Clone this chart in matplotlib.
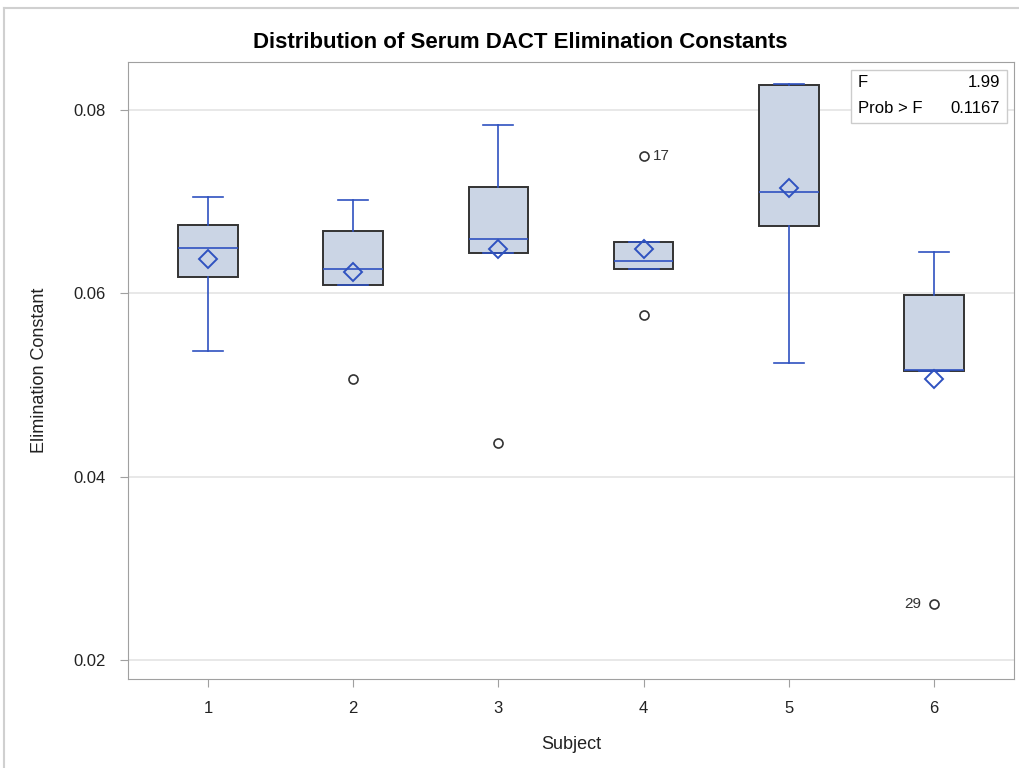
import numpy as np
import matplotlib
matplotlib.use("Agg")
import matplotlib.pyplot as plt
from matplotlib.patches import Rectangle

plt.rcParams['font.family'] = ['Liberation Sans Narrow', 'Liberation Sans', 'DejaVu Sans']

# summary statistics
subjects = [1, 2, 3, 4, 5, 6]
whisker_lo = [0.05374, 0.06091, 0.06440, 0.06265, 0.05236, 0.05156]
q1 = [0.06175, 0.06091, 0.06440, 0.06265, 0.06738, 0.05156]
median = [0.06491, 0.06269, 0.06596, 0.06356, 0.07105, 0.05165]
q3 = [0.06742, 0.06683, 0.07156, 0.06563, 0.08272, 0.05985]
whisker_hi = [0.07054, 0.07015, 0.07833, 0.06563, 0.08283, 0.06454]
mean = [0.06371, 0.06233, 0.06487, 0.06487, 0.07149, 0.05062]

# outliers: subject, value, id label
out_subject = [2, 3, 4, 4, 6]
out_value = [0.05062, 0.04364, 0.07502, 0.05760, 0.02611]
out_label = ['', '', '17', '', '29']

f_value = '1.99'
p_value = '0.1167'

blue = '#2f52c0'
fill = '#cbd5e5'

stats = []
for i, s in enumerate(subjects):
    fl = [v for sj, v in zip(out_subject, out_value) if sj == s]
    stats.append(dict(med=median[i], q1=q1[i], q3=q3[i], whislo=whisker_lo[i],
                      whishi=whisker_hi[i], mean=mean[i], fliers=fl))

fig = plt.figure(figsize=(10.2, 7.68), dpi=100)
ax = fig.add_axes([0.1255, 0.1159, 0.8686, 0.8034])

ax.bxp(stats, positions=subjects, widths=0.41, patch_artist=True, showmeans=True,
       boxprops=dict(facecolor=fill, edgecolor='#333333', linewidth=1.4),
       whiskerprops=dict(color=blue, linewidth=1.2),
       capprops=dict(color=blue, linewidth=1.2),
       medianprops=dict(color=blue, linewidth=1.2),
       meanprops=dict(marker='D', markerfacecolor='none', markeredgecolor=blue,
                      markersize=9, markeredgewidth=1.4),
       flierprops=dict(marker='o', markerfacecolor='white', markeredgecolor='#333333',
                       markersize=6.5, markeredgewidth=1.2),
       zorder=3)

for s, v, lab in zip(out_subject, out_value, out_label):
    if lab == '':
        continue
    if s == 6:
        ax.annotate(lab, (s, v), xytext=(-9, 0), textcoords='offset points',
                    ha='right', va='center', fontsize=11, color='#333333')
    else:
        ax.annotate(lab, (s, v), xytext=(7, 0), textcoords='offset points',
                    ha='left', va='center', fontsize=11, color='#333333')

ax.set_xlim(0.45, 6.55)
ax.set_ylim(0.01793, 0.08523)
ax.set_yticks([0.02, 0.04, 0.06, 0.08])
ax.set_yticklabels(['0.02', '0.04', '0.06', '0.08'])
ax.set_xticks(subjects)
ax.set_xticklabels([str(s) for s in subjects])
ax.yaxis.grid(True, color='#e4e4e4', linewidth=1.2, zorder=0)
ax.set_axisbelow(True)
for sp in ax.spines.values():
    sp.set_color('#a0a0a0')
ax.tick_params(colors='#a0a0a0', labelcolor='#222222', labelsize=12, length=6, pad=10)

ax.set_xlabel('Subject', fontsize=13, color='#222222', labelpad=14)
ax.set_ylabel('Elimination Constant', fontsize=13, color='#222222', labelpad=18)
fig.text(0.51, 0.945, 'Distribution of Serum DACT Elimination Constants',
         ha='center', va='center', fontsize=16, fontweight='bold', color='black')

# F statistic inset
ax.add_patch(Rectangle((0.816, 0.901), 0.176, 0.086, transform=ax.transAxes,
                       facecolor='white', edgecolor='#cccccc', linewidth=1, zorder=5))
ax.text(0.824, 0.966, 'F', transform=ax.transAxes, ha='left', va='center', fontsize=12, zorder=6)
ax.text(0.984, 0.966, f_value, transform=ax.transAxes, ha='right', va='center', fontsize=12, zorder=6)
ax.text(0.824, 0.925, 'Prob > F', transform=ax.transAxes, ha='left', va='center', fontsize=12, zorder=6)
ax.text(0.984, 0.925, p_value, transform=ax.transAxes, ha='right', va='center', fontsize=12, zorder=6)

# outer frame of the output
fig.add_artist(plt.Line2D([0.004, 1.0], [0.990, 0.990], color='#d0d0d0', linewidth=1.5))
fig.add_artist(plt.Line2D([0.004, 0.004], [0.0, 0.990], color='#d0d0d0', linewidth=1.5))

fig.savefig('out.png', dpi=100)
